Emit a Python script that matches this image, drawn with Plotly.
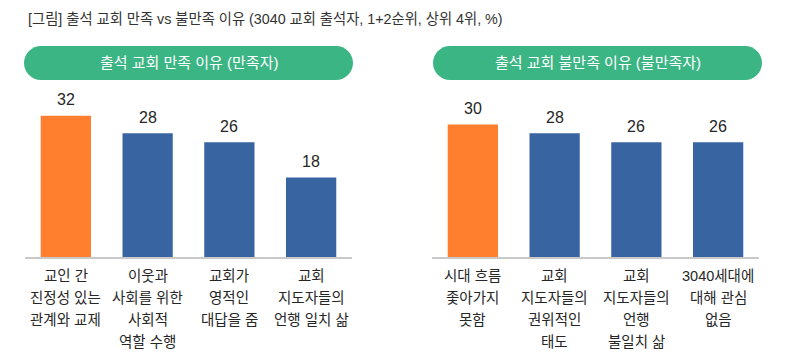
import plotly.graph_objects as go

# ---- data ----
title_text = "[그림] 출석 교회 만족 vs 불만족 이유 (3040 교회 출석자, 1+2순위, 상위 4위, %)"
left_header = "출석 교회 만족 이유 (만족자)"
right_header = "출석 교회 불만족 이유 (불만족자)"
left_categories = [
    "교인 간<br>진정성 있는<br>관계와 교제",
    "이웃과<br>사회를 위한<br>사회적<br>역할 수행",
    "교회가<br>영적인<br>대답을 줌",
    "교회<br>지도자들의<br>언행 일치 삶",
]
left_values = [32, 28, 26, 18]
right_categories = [
    "시대 흐름<br>좇아가지<br>못함",
    "교회<br>지도자들의<br>권위적인<br>태도",
    "교회<br>지도자들의<br>언행<br>불일치 삶",
    "3040세대에<br>대해 관심<br>없음",
]
right_values = [30, 28, 26, 26]

# ---- style ----
# the page body has an 8px margin, so the figure is drawn 8px in from the corner
OFF = 8
W, H = 811 - OFF, 362 - OFF
FONT = "Liberation Sans, Noto Sans CJK KR, sans-serif"
ORANGE = "#FF7F2E"
BLUE = "#3865A2"
GREEN = "#3CB585"
TEXT = "#262626"

def px_x(p):
    return (p - OFF) / W

def px_y(p):
    return 1 - (p - OFF) / H

left_dom = [px_x(25), px_x(352)]
right_dom = [px_x(432), px_x(759)]
y_dom = [px_y(257), px_y(98)]

def colors(n):
    return [ORANGE] + [BLUE] * (n - 1)

fig = go.Figure()
for cats, vals, xa, ya in [
    (left_categories, left_values, "x", "y"),
    (right_categories, right_values, "x2", "y2"),
]:
    fig.add_trace(go.Bar(
        x=cats, y=vals, xaxis=xa, yaxis=ya,
        marker=dict(color=colors(len(vals)), line=dict(width=0)),
        cliponaxis=False, showlegend=False, hoverinfo="skip",
    ))

axis_common = dict(showgrid=False, zeroline=False, showticklabels=False, ticks="",
                   showline=True, linecolor="#C9C9C9", linewidth=2, fixedrange=True)
yaxis_common = dict(range=[0, 36], showgrid=False, zeroline=False, showticklabels=False,
                    showline=False, fixedrange=True, domain=y_dom)

fig.update_layout(
    width=W, height=H,
    margin=dict(l=0, r=0, t=0, b=0),
    paper_bgcolor="white", plot_bgcolor="white",
    bargap=0.385,
    xaxis=dict(domain=left_dom, anchor="y", **axis_common),
    yaxis=dict(anchor="x", **yaxis_common),
    xaxis2=dict(domain=right_dom, anchor="y2", **axis_common),
    yaxis2=dict(anchor="x2", **yaxis_common),
    font=dict(family=FONT),
)

annotations = []
# title
annotations.append(dict(
    text=title_text, x=px_x(26), y=px_y(19), xref="paper", yref="paper",
    xanchor="left", yanchor="middle", showarrow=False,
    font=dict(family=FONT, size=14.3, color="#333333"),
))

# value labels above bars and category labels under each bar
for cats, vals, xr, yr in [(left_categories, left_values, "x", "y"),
                           (right_categories, right_values, "x2", "y2")]:
    for c, v in zip(cats, vals):
        annotations.append(dict(
            text=str(v), x=c, y=v, xref=xr, yref=yr,
            xanchor="center", yanchor="middle", yshift=16, showarrow=False,
            font=dict(family=FONT, size=16, color=TEXT),
        ))
        for i, line in enumerate(c.split("<br>")):
            annotations.append(dict(
                text=line, x=c, xref=xr, y=y_dom[0], yref="paper",
                xanchor="center", yanchor="middle", yshift=-19 - 22 * i,
                showarrow=False, font=dict(family=FONT, size=14.5, color=TEXT),
            ))

# header pills
def pill_path(x0, x1, y0, y1):
    r = (y1 - y0) / 2
    k = 0.5523 * r
    def P(x, y):
        return f"{px_x(x):.5f},{px_y(y):.5f}"
    return (
        f"M {P(x0 + r, y0)} L {P(x1 - r, y0)} "
        f"C {P(x1 - r + k, y0)} {P(x1, y0 + r - k)} {P(x1, y0 + r)} "
        f"C {P(x1, y0 + r + k)} {P(x1 - r + k, y1)} {P(x1 - r, y1)} "
        f"L {P(x0 + r, y1)} "
        f"C {P(x0 + r - k, y1)} {P(x0, y0 + r + k)} {P(x0, y0 + r)} "
        f"C {P(x0, y0 + r - k)} {P(x0 + r - k, y0)} {P(x0 + r, y0)} Z"
    )

shapes = []
for header, (x0, x1) in [(left_header, (24, 353)), (right_header, (433, 762))]:
    shapes.append(dict(type="path", xref="paper", yref="paper",
                       path=pill_path(x0, x1, 46, 80),
                       fillcolor=GREEN, line=dict(width=0), layer="below"))
    annotations.append(dict(
        text=header, x=px_x((x0 + x1) / 2), y=px_y(63), xref="paper", yref="paper",
        xanchor="center", yanchor="middle", showarrow=False,
        font=dict(family=FONT, size=15, color="white"),
    ))

fig.update_layout(annotations=annotations, shapes=shapes)
fig.write_html("out.html")
